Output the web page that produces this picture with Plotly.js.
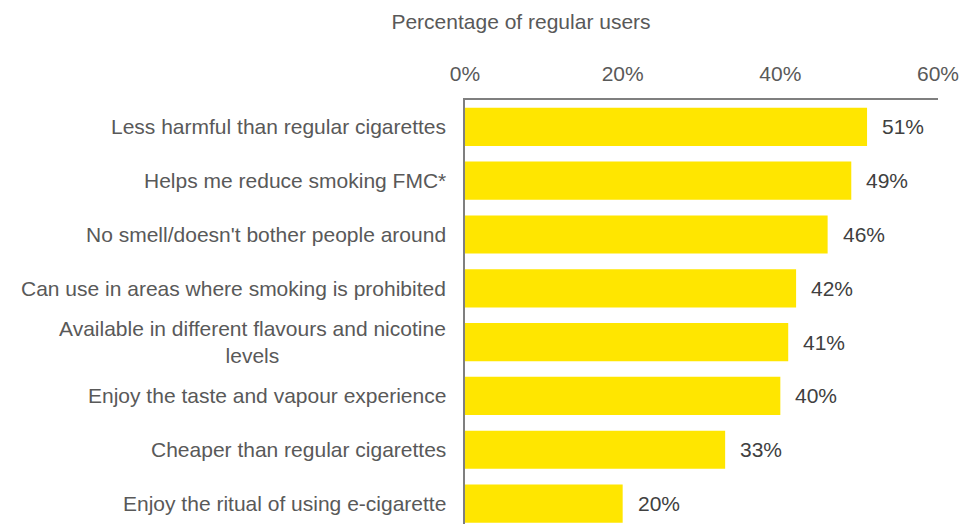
<!DOCTYPE html>
<html>
<head>
<meta charset="utf-8">
<script src="https://cdn.plot.ly/plotly-3.0.1.min.js"></script>
<style>html,body{margin:0;padding:0;background:#fff;}#chart{width:962px;height:524px;}</style>
</head>
<body>
<div id="chart"></div>
<script>
const categories = [
  "Less harmful than regular cigarettes",
  "Helps me reduce smoking FMC*",
  "No smell/doesn't bother people around",
  "Can use in areas where smoking is prohibited",
  "Available in different flavours and nicotine<br>levels",
  "Enjoy the taste and vapour experience",
  "Cheaper than regular cigarettes",
  "Enjoy the ritual of using e-cigarette"
];
const values = [51, 49, 46, 42, 41, 40, 33, 20];
const valueLabels = ["51%", "49%", "46%", "42%", "41%", "40%", "33%", "20%"];
const tickVals = [0, 20, 40, 60];
const tickText = ["0%", "20%", "40%", "60%"];

const font = "Liberation Sans, Arial, sans-serif";
const labelColor = "#595959";
const fs = 21;

const trace = {
  type: "bar",
  orientation: "h",
  x: values,
  y: categories,
  marker: {color: "#FFE600", line: {width: 0}},
  hoverinfo: "none"
};

const annotations = [];
categories.forEach((c, i) => {
  annotations.push({
    xref: "paper", yref: "y", x: 0, y: c,
    text: c, showarrow: false, xanchor: "right", yanchor: "middle",
    align: "center", xshift: -17,
    font: {family: font, size: fs, color: labelColor}
  });
  annotations.push({
    xref: "x", yref: "y", x: values[i], y: c,
    text: valueLabels[i], showarrow: false, xanchor: "left", yanchor: "middle",
    xshift: 13,
    font: {family: font, size: fs, color: "#404040"}
  });
});

const layout = {
  width: 962, height: 524,
  margin: {l: 465, r: 24, t: 100, b: 0, pad: 0},
  paper_bgcolor: "#fff", plot_bgcolor: "#fff",
  showlegend: false,
  bargap: 0.29,
  title: {
    text: "Percentage of regular users",
    xref: "container", yref: "container",
    x: 521/962, y: 1 - 22/524, xanchor: "center", yanchor: "middle",
    font: {family: font, size: fs, color: labelColor}
  },
  xaxis: {
    side: "top", range: [0, 60], tickvals: tickVals, ticktext: tickText,
    showgrid: false, zeroline: false, showline: true, linecolor: "#7f7f7f", linewidth: 2,
    ticks: "", ticklabelstandoff: 9,
    tickfont: {family: font, size: fs, color: labelColor},
    fixedrange: true
  },
  yaxis: {
    type: "category", range: [7.38, -0.5],
    showticklabels: false, showgrid: false, zeroline: false,
    showline: true, linecolor: "#7f7f7f", linewidth: 2, ticks: "",
    fixedrange: true
  },
  annotations: annotations
};

Plotly.newPlot("chart", [trace], layout, {displayModeBar: false, staticPlot: true});
</script>
</body>
</html>
